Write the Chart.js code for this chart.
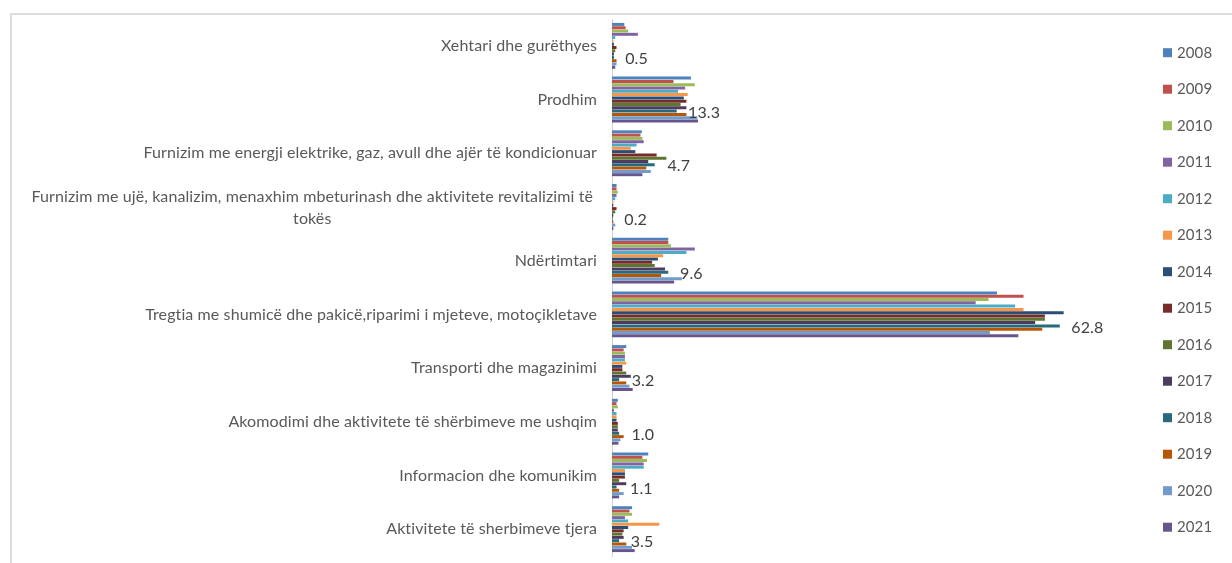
<!DOCTYPE html>
<html>
<head>
<meta charset="utf-8">
<script src="https://cdn.jsdelivr.net/npm/chart.js@4"></script>
<style>
  html, body { margin: 0; padding: 0; background: #fff; }
  #wrap { position: relative; width: 1232px; height: 563px; overflow: hidden; }
  #frame { position: absolute; left: 10px; top: 13px; width: 1240px; height: 600px; border-left: 2px solid #dcdcdc; border-top: 2px solid #dcdcdc; box-sizing: border-box; }
  canvas { position: absolute; left: 0; top: 0; }
</style>
</head>
<body>
<div id="wrap">
  <div id="frame"></div>
  <canvas id="c" width="1232" height="563"></canvas>
</div>
<script>
const categories = [
  "Xehtari dhe gurëthyes",
  "Prodhim",
  "Furnizim me energji elektrike, gaz, avull dhe ajër të kondicionuar",
  ["Furnizim me ujë, kanalizim, menaxhim mbeturinash dhe aktivitete revitalizimi të", "tokës"],
  "Ndërtimtari",
  "Tregtia me shumicë dhe pakicë,riparimi i mjeteve, motoçikletave",
  "Transporti dhe magazinimi",
  "Akomodimi dhe aktivitete të shërbimeve me ushqim",
  "Informacion dhe komunikim",
  "Aktivitete të sherbimeve tjera"
];
const years = ["2008","2009","2010","2011","2012","2013","2014","2015","2016","2017","2018","2019","2020","2021"];

const v2008 = [1.9, 12.2, 4.6, 0.7, 8.7, 59.5, 2.2, 0.9, 5.6, 3.1];
const v2009 = [2.1, 9.5, 4.4, 0.7, 8.7, 63.6, 1.8, 0.7, 4.7, 2.7];
const v2010 = [2.5, 12.8, 4.7, 0.9, 9.1, 58.2, 2.0, 0.9, 5.4, 3.1];
const v2011 = [4.0, 11.3, 4.9, 0.7, 12.8, 56.2, 2.0, 0.3, 4.9, 2.0];
const v2012 = [0.5, 10.2, 3.8, 0.5, 11.5, 62.3, 2.0, 0.7, 4.9, 2.5];
const v2013 = [0.2, 11.7, 2.9, 0.2, 7.9, 63.6, 2.2, 0.7, 2.0, 7.3];
const v2014 = [0.3, 11.1, 3.6, 0.2, 7.1, 69.8, 1.6, 0.7, 2.0, 2.5];
const v2015 = [0.7, 11.5, 6.9, 0.7, 6.2, 66.9, 1.6, 0.9, 2.0, 1.8];
const v2016 = [0.5, 10.6, 8.4, 0.5, 6.6, 66.9, 2.2, 0.9, 1.1, 1.6];
const v2017 = [0.3, 11.5, 5.6, 0.2, 8.2, 65.4, 2.9, 0.9, 2.2, 1.8];
const v2018 = [0.3, 10.0, 6.6, 0.1, 8.7, 69.2, 1.1, 1.1, 0.7, 1.1];
const v2019 = [0.7, 11.5, 5.3, 0.2, 7.6, 66.5, 2.2, 1.8, 1.1, 2.2];
const v2020 = [0.7, 13.2, 6.0, 0.5, 10.8, 58.4, 2.7, 1.3, 1.8, 3.1];
const v2021 = [0.5, 13.3, 4.7, 0.2, 9.6, 62.8, 3.2, 1.0, 1.1, 3.5];
const dataLabels = ["0.5", "13.3", "4.7", "0.2", "9.6", "62.8", "3.2", "1.0", "1.1", "3.5"];

const seriesValues = [v2008, v2009, v2010, v2011, v2012, v2013, v2014, v2015, v2016, v2017, v2018, v2019, v2020, v2021];
const colors = ["#4F81BD","#C0504D","#9BBB59","#8064A2","#4BACC6","#F79646","#2C4D75","#772C2A","#5F7530","#4D3B62","#276A7C","#B65708","#729ACA","#66558C"];
// horizontal nudge (px) for each data label, relative to the 2021 bar end
const labelDx = [10, -10, 25, 11, 6, 53, -1, 13, 11, -4];

const FONT = "Lato, 'Liberation Sans', sans-serif";
const TXT = "#595959";

const datasets = years.map((y, i) => ({
  label: y,
  data: seriesValues[i],
  backgroundColor: colors[i],
  borderWidth: 0,
  categoryPercentage: 0.86,
  barPercentage: 0.9
}));

const drawer = {
  id: 'drawer',
  afterDraw(chart) {
    const ctx = chart.ctx;
    const ys = chart.scales.y;
    ctx.save();
    ctx.fillStyle = TXT;
    ctx.font = "16px " + FONT;
    if ('letterSpacing' in ctx) ctx.letterSpacing = "0.1px";
    ctx.textBaseline = "middle";
    // category labels
    categories.forEach((c, i) => {
      const yc = ys.getPixelForValue(i);
      if (Array.isArray(c)) {
        const lh = 22;
        const w = Math.max(...c.map(t => ctx.measureText(t).width));
        const cx = 593 - w / 2;
        ctx.textAlign = "center";
        c.forEach((t, k) => ctx.fillText(t, cx, yc - 10 + k * lh));
      } else {
        ctx.textAlign = "right";
        ctx.fillText(c, 597, yc);
      }
    });
    // data labels (2021 values)
    ctx.textAlign = "left";
    ctx.font = "16px " + FONT;
    ctx.fillStyle = "#404040";
    const meta = chart.getDatasetMeta(13);
    meta.data.forEach((bar, i) => {
      const yc = ys.getPixelForValue(i) + 13;
      ctx.fillText(dataLabels[i], bar.x + labelDx[i], yc);
    });
    // legend
    ctx.font = "15px " + FONT;
    years.forEach((y, i) => {
      const yy = 52.7 + i * 36.5;
      ctx.fillStyle = colors[i];
      ctx.fillRect(1163, yy - 4.5, 9, 9);
      ctx.fillStyle = TXT;
      ctx.fillText(y, 1177, yy);
    });
    ctx.restore();
  }
};

new Chart(document.getElementById('c'), {
  type: 'bar',
  data: { labels: categories, datasets },
  options: {
    indexAxis: 'y',
    responsive: false,
    animation: false,
    layout: { padding: { top: 19, bottom: 7, left: 0, right: 92 } },
    plugins: { legend: { display: false }, tooltip: { enabled: false } },
    scales: {
      y: {
        ticks: { display: false },
        grid: { display: false, drawTicks: false },
        border: { display: true, color: "#d0d0d0", width: 1 },
        afterFit(scale) { scale.width = 612; }
      },
      x: {
        display: false,
        min: 0,
        max: 81.6
      }
    }
  },
  plugins: [drawer]
});
</script>
</body>
</html>
